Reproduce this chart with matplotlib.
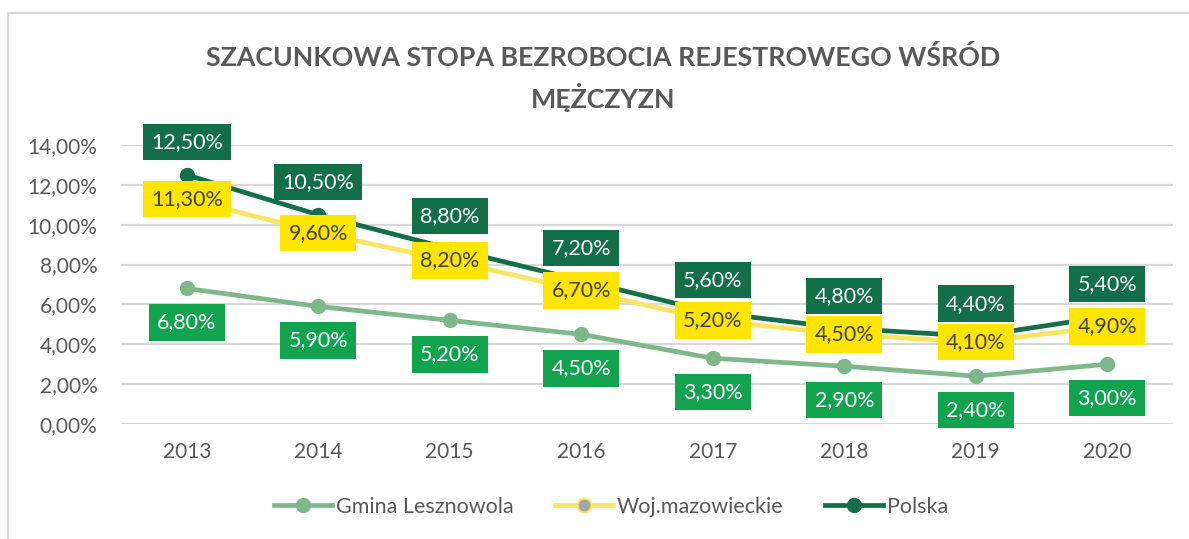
import matplotlib
matplotlib.use("Agg")
import matplotlib.pyplot as plt
from matplotlib.lines import Line2D
from matplotlib.patches import Rectangle

plt.rcParams['font.family'] = ['Lato', 'DejaVu Sans']

years = ['2013', '2014', '2015', '2016', '2017', '2018', '2019', '2020']
gmina = [6.8, 5.9, 5.2, 4.5, 3.3, 2.9, 2.4, 3.0]
woj = [11.3, 9.6, 8.2, 6.7, 5.2, 4.5, 4.1, 4.9]
polska = [12.5, 10.5, 8.8, 7.2, 5.6, 4.8, 4.4, 5.4]
yticks = [0, 2, 4, 6, 8, 10, 12, 14]

TXT = '#595959'
GRID = '#d9d9d9'
C_GMINA = '#7db88a'
C_GMINA_BOX = '#12a34e'
C_WOJ = '#fae463'
C_WOJ_BOX = '#ffe500'
C_POL = '#136f4a'


def pct(v):
    return f"{v:.2f}".replace('.', ',') + '%'


fig = plt.figure(figsize=(11.89, 5.39), dpi=100)
fig.patch.set_facecolor('white')

# chart frame
fig.patches.append(Rectangle((8 / 1189, -0.1), 1.2, 1 - 13 / 539 + 0.1,
                             transform=fig.transFigure, fill=False,
                             edgecolor=GRID, linewidth=1.6, zorder=0))

ax = fig.add_axes([121 / 1189, 1 - 424 / 539, (1173 - 121) / 1189, (424 - 145) / 539])
x = list(range(len(years)))

ax.set_xlim(-0.5, len(years) - 0.5)
ax.set_ylim(0, 14)
ax.set_yticks(yticks)
ax.set_yticklabels([pct(t) for t in yticks])
ax.set_xticks(x)
ax.set_xticklabels(years)
ax.tick_params(axis='both', length=0, labelsize=15, labelcolor=TXT)
ax.tick_params(axis='y', pad=17)
ax.tick_params(axis='x', pad=13)
for s in ax.spines.values():
    s.set_visible(False)
ax.yaxis.grid(True, color=GRID, linewidth=1.6)
ax.set_axisbelow(True)

lw = 3.4
ax.plot(x, gmina, color=C_GMINA, linewidth=lw, marker='o', markersize=10,
        markerfacecolor=C_GMINA, markeredgecolor=C_GMINA, zorder=3)
ax.plot(x, woj, color=C_WOJ, linewidth=lw, marker='o', markersize=10,
        markerfacecolor='#a5a5a5', markeredgecolor=C_WOJ, zorder=3)
ax.plot(x, polska, color=C_POL, linewidth=lw, marker='o', markersize=10,
        markerfacecolor=C_POL, markeredgecolor=C_POL, zorder=4)

box_kw = dict(boxstyle='square,pad=0.38', linewidth=0)
for xi, v in zip(x, polska):
    ax.annotate(pct(v), (xi, v), xytext=(0, 23.5), textcoords='offset points',
                ha='center', va='center', fontsize=15.5, color='white',
                bbox=dict(facecolor=C_POL, **box_kw), zorder=6)
for xi, v in zip(x, woj):
    ax.annotate(pct(v), (xi, v), xytext=(0, 0), textcoords='offset points',
                ha='center', va='center', fontsize=15.5, color='#404040',
                bbox=dict(facecolor=C_WOJ_BOX, **box_kw), zorder=6)
for xi, v in zip(x, gmina):
    ax.annotate(pct(v), (xi, v), xytext=(0, -24.5), textcoords='offset points',
                ha='center', va='center', fontsize=15.5, color='white',
                bbox=dict(facecolor=C_GMINA_BOX, **box_kw), zorder=6)

fig.text(0.507, 1 - 57 / 539, 'SZACUNKOWA STOPA BEZROBOCIA REJESTROWEGO WŚRÓD',
         ha='center', va='center', fontsize=19.3, fontweight='bold', color=TXT)
fig.text(0.507, 1 - 97 / 539, 'MĘŻCZYZN',
         ha='center', va='center', fontsize=19.3, fontweight='bold', color=TXT)

handles = [
    Line2D([], [], color=C_GMINA, linewidth=lw, marker='o', markersize=10,
           markerfacecolor=C_GMINA, markeredgecolor=C_GMINA),
    Line2D([], [], color=C_WOJ, linewidth=lw, marker='o', markersize=10,
           markerfacecolor='#a5a5a5', markeredgecolor=C_WOJ, markeredgewidth=1.5),
    Line2D([], [], color=C_POL, linewidth=lw, marker='o', markersize=10,
           markerfacecolor=C_POL, markeredgecolor=C_POL),
]
fig.legend(handles, ['Gmina Lesznowola', 'Woj.mazowieckie', 'Polska'],
           loc='center', bbox_to_anchor=(611 / 1189, 1 - 507 / 539), ncol=3,
           frameon=False, fontsize=15.5, labelcolor=TXT, handlelength=2.7,
           handletextpad=0.2, columnspacing=1.9)

fig.savefig('out.png', dpi=100, facecolor='white')
